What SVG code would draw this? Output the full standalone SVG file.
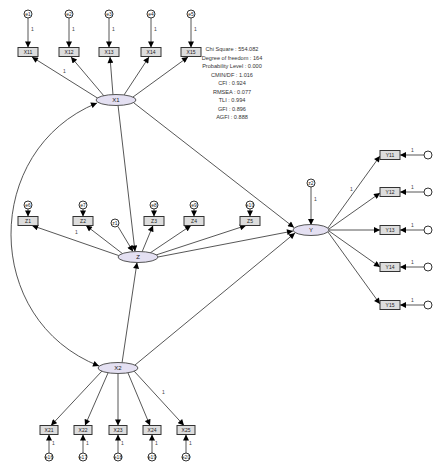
<svg xmlns="http://www.w3.org/2000/svg" width="435" height="466" viewBox="0 0 435 466">
<defs>
<marker id="ah" viewBox="0 0 10 10" refX="10" refY="5" markerWidth="7" markerHeight="6" markerUnits="userSpaceOnUse" orient="auto-start-reverse"><path d="M0,0 L10,5 L0,10 z" fill="#000"/></marker>
<style>
.c{stroke:#444;stroke-width:0.9;fill:none;marker-end:url(#ah)}
.cov{stroke:#444;stroke-width:0.9;fill:none;marker-end:url(#ah);marker-start:url(#ah)}
.lat{fill:#e4e0f2;stroke:#555;stroke-width:1}
.obs{fill:#ddd;stroke:#333;stroke-width:1}
.err{fill:#fff;stroke:#333;stroke-width:1}
.t{font-family:"Liberation Sans",Arial,sans-serif;font-size:5px;fill:#222;text-anchor:middle}
.tl{font-family:"Liberation Sans",Arial,sans-serif;font-size:6px;fill:#222;text-anchor:middle}
.one{font-family:"Liberation Sans",Arial,sans-serif;font-size:5px;fill:#444}
.st{font-family:"Liberation Sans",Arial,sans-serif;font-size:5.6px;fill:#333;text-anchor:middle}
</style>
</defs>
<g id="connectors">
<path class="cov" d="M97,103 C-18,150 -18,320 99,366"/>
<line class="c" x1="118" y1="105" x2="135" y2="251.5"/>
<line class="c" x1="134" y1="103" x2="294" y2="227.5"/>
<line class="c" x1="158" y1="257" x2="293" y2="231"/>
<line class="c" x1="135" y1="365" x2="295" y2="233"/>
<line class="c" x1="122" y1="363" x2="137" y2="262.5"/>
<line class="c" x1="118" y1="226.5" x2="133" y2="251.5"/>
<line class="c" x1="311" y1="187" x2="311" y2="225"/>
<line class="c" x1="99" y1="99" x2="32" y2="57"/>
<line class="c" x1="104" y1="96" x2="71" y2="57"/>
<line class="c" x1="113" y1="95" x2="110" y2="57"/>
<line class="c" x1="124" y1="95" x2="149" y2="57"/>
<line class="c" x1="133" y1="97" x2="188" y2="57"/>
<line class="c" x1="28" y1="18" x2="28" y2="47.5"/>
<line class="c" x1="69" y1="18" x2="69" y2="47.5"/>
<line class="c" x1="109" y1="18" x2="109" y2="47.5"/>
<line class="c" x1="151" y1="18" x2="151" y2="47.5"/>
<line class="c" x1="191" y1="18" x2="191" y2="47.5"/>
<line class="c" x1="120" y1="256" x2="32" y2="225.5"/>
<line class="c" x1="123" y1="254" x2="86" y2="225.5"/>
<line class="c" x1="142" y1="252" x2="153" y2="225.5"/>
<line class="c" x1="150" y1="253" x2="191" y2="225.5"/>
<line class="c" x1="156" y1="255" x2="246" y2="225.5"/>
<line class="c" x1="28" y1="209" x2="28" y2="216.5"/>
<line class="c" x1="83" y1="209" x2="83" y2="216.5"/>
<line class="c" x1="154" y1="209" x2="154" y2="216.5"/>
<line class="c" x1="194" y1="209" x2="194" y2="216.5"/>
<line class="c" x1="250" y1="209" x2="250" y2="216.5"/>
<line class="c" x1="328" y1="228" x2="380" y2="156"/>
<line class="c" x1="329" y1="229" x2="380" y2="193"/>
<line class="c" x1="329" y1="230" x2="380" y2="230"/>
<line class="c" x1="329" y1="231" x2="380" y2="267"/>
<line class="c" x1="328" y1="232" x2="380" y2="304"/>
<line class="c" x1="424" y1="155" x2="400" y2="155"/>
<line class="c" x1="424" y1="192" x2="400" y2="192"/>
<line class="c" x1="424" y1="230" x2="400" y2="230"/>
<line class="c" x1="424" y1="267" x2="400" y2="267"/>
<line class="c" x1="424" y1="305" x2="400" y2="305"/>
<line class="c" x1="102" y1="371" x2="51" y2="425.5"/>
<line class="c" x1="108" y1="373" x2="85" y2="425.5"/>
<line class="c" x1="118" y1="373" x2="118" y2="425.5"/>
<line class="c" x1="128" y1="373" x2="150" y2="425.5"/>
<line class="c" x1="134" y1="371" x2="184" y2="425.5"/>
<line class="c" x1="49" y1="453" x2="49" y2="434.5"/>
<line class="c" x1="83" y1="453" x2="83" y2="434.5"/>
<line class="c" x1="118" y1="453" x2="118" y2="434.5"/>
<line class="c" x1="152" y1="453" x2="152" y2="434.5"/>
<line class="c" x1="186" y1="453" x2="186" y2="434.5"/>
</g>
<g id="labels-one">
<text class="one" x="31" y="31">1</text><text class="one" x="72" y="31">1</text><text class="one" x="112" y="31">1</text><text class="one" x="154" y="31">1</text><text class="one" x="194" y="31">1</text>
<text class="one" x="63" y="73">1</text>
<text class="one" x="75" y="234">1</text>
<text class="one" x="314" y="201">1</text>
<text class="one" x="350" y="191">1</text>
<text class="one" x="411" y="152">1</text><text class="one" x="411" y="189">1</text><text class="one" x="411" y="227">1</text><text class="one" x="411" y="264">1</text><text class="one" x="411" y="302">1</text>
<text class="one" x="162" y="394">1</text>
<text class="one" x="52" y="445">1</text><text class="one" x="86" y="445">1</text><text class="one" x="121" y="445">1</text><text class="one" x="155" y="445">1</text><text class="one" x="189" y="445">1</text>
</g>
<g id="X1"><ellipse class="lat" cx="116" cy="100" rx="20" ry="5.5"/><text class="tl" x="116" y="102">X1</text></g>
<g id="Z"><ellipse class="lat" cx="138" cy="257" rx="20" ry="5.5"/><text class="tl" x="138" y="259">Z</text></g>
<g id="Y"><ellipse class="lat" cx="311" cy="230" rx="18" ry="5.5"/><text class="tl" x="311" y="232">Y</text></g>
<g id="X2"><ellipse class="lat" cx="118" cy="368" rx="20" ry="5.5"/><text class="tl" x="118" y="370">X2</text></g>
<g id="dZ"><circle class="err" cx="115" cy="223" r="4"/><text class="t" x="115" y="224.7">z1</text></g>
<g id="dY"><circle class="err" cx="311" cy="183" r="4"/><text class="t" x="311" y="184.7">z2</text></g>
<g id="X1-ind">
<rect class="obs" x="18" y="47.5" width="20" height="9"/><text class="t" x="28" y="53.7">X11</text>
<rect class="obs" x="59" y="47.5" width="20" height="9"/><text class="t" x="69" y="53.7">X12</text>
<rect class="obs" x="99" y="47.5" width="20" height="9"/><text class="t" x="109" y="53.7">X13</text>
<rect class="obs" x="141" y="47.5" width="20" height="9"/><text class="t" x="151" y="53.7">X14</text>
<rect class="obs" x="181" y="47.5" width="20" height="9"/><text class="t" x="191" y="53.7">X15</text>
<circle class="err" cx="28" cy="14" r="4"/><text class="t" x="28" y="15.7">e1</text>
<circle class="err" cx="69" cy="14" r="4"/><text class="t" x="69" y="15.7">e2</text>
<circle class="err" cx="109" cy="14" r="4"/><text class="t" x="109" y="15.7">e3</text>
<circle class="err" cx="151" cy="14" r="4"/><text class="t" x="151" y="15.7">e4</text>
<circle class="err" cx="191" cy="14" r="4"/><text class="t" x="191" y="15.7">e5</text>
</g>
<g id="Z-ind">
<rect class="obs" x="18" y="216.5" width="20" height="9"/><text class="t" x="28" y="222.7">Z1</text>
<rect class="obs" x="73" y="216.5" width="20" height="9"/><text class="t" x="83" y="222.7">Z2</text>
<rect class="obs" x="144" y="216.5" width="20" height="9"/><text class="t" x="154" y="222.7">Z3</text>
<rect class="obs" x="184" y="216.5" width="20" height="9"/><text class="t" x="194" y="222.7">Z4</text>
<rect class="obs" x="240" y="216.5" width="20" height="9"/><text class="t" x="250" y="222.7">Z5</text>
<circle class="err" cx="28" cy="205" r="4"/><text class="t" x="28" y="206.7">e6</text>
<circle class="err" cx="83" cy="205" r="4"/><text class="t" x="83" y="206.7">e7</text>
<circle class="err" cx="154" cy="205" r="4"/><text class="t" x="154" y="206.7">e8</text>
<circle class="err" cx="194" cy="205" r="4"/><text class="t" x="194" y="206.7">e9</text>
<circle class="err" cx="250" cy="205" r="4"/><text class="t" x="250" y="206.7">e10</text>
</g>
<g id="Y-ind">
<rect class="obs" x="380" y="150.5" width="20" height="9"/><text class="t" x="390" y="156.7">Y11</text>
<rect class="obs" x="380" y="187.5" width="20" height="9"/><text class="t" x="390" y="193.7">Y12</text>
<rect class="obs" x="380" y="225.5" width="20" height="9"/><text class="t" x="390" y="231.7">Y13</text>
<rect class="obs" x="380" y="262.5" width="20" height="9"/><text class="t" x="390" y="268.7">Y14</text>
<rect class="obs" x="380" y="300.5" width="20" height="9"/><text class="t" x="390" y="306.7">Y15</text>
<circle class="err" cx="428" cy="155" r="4"/><circle class="err" cx="428" cy="192" r="4"/><circle class="err" cx="428" cy="230" r="4"/><circle class="err" cx="428" cy="267" r="4"/><circle class="err" cx="428" cy="305" r="4"/>
</g>
<g id="X2-ind">
<rect class="obs" x="40" y="425.5" width="18" height="9"/><text class="t" x="49" y="431.7">X21</text>
<rect class="obs" x="74" y="425.5" width="18" height="9"/><text class="t" x="83" y="431.7">X22</text>
<rect class="obs" x="109" y="425.5" width="18" height="9"/><text class="t" x="118" y="431.7">X23</text>
<rect class="obs" x="143" y="425.5" width="18" height="9"/><text class="t" x="152" y="431.7">X24</text>
<rect class="obs" x="177" y="425.5" width="18" height="9"/><text class="t" x="186" y="431.7">X25</text>
<circle class="err" cx="49" cy="457" r="4"/><text class="t" x="49" y="458.7">e16</text>
<circle class="err" cx="83" cy="457" r="4"/><text class="t" x="83" y="458.7">e17</text>
<circle class="err" cx="118" cy="457" r="4"/><text class="t" x="118" y="458.7">e18</text>
<circle class="err" cx="152" cy="457" r="4"/><text class="t" x="152" y="458.7">e19</text>
<circle class="err" cx="186" cy="457" r="4"/><text class="t" x="186" y="458.7">e20</text>
</g>
<g id="fit">
<text class="st" x="232" y="51">Chi Square : 554.082</text>
<text class="st" x="232" y="59.5">Degree of freedom : 164</text>
<text class="st" x="232" y="68">Probability Level : 0.000</text>
<text class="st" x="232" y="76.5">CMIN/DF : 1.016</text>
<text class="st" x="232" y="85">CFI : 0.924</text>
<text class="st" x="232" y="93.5">RMSEA : 0.077</text>
<text class="st" x="232" y="102">TLI : 0.994</text>
<text class="st" x="232" y="110.5">GFI : 0.896</text>
<text class="st" x="232" y="119">AGFI : 0.888</text>
</g>
</svg>
